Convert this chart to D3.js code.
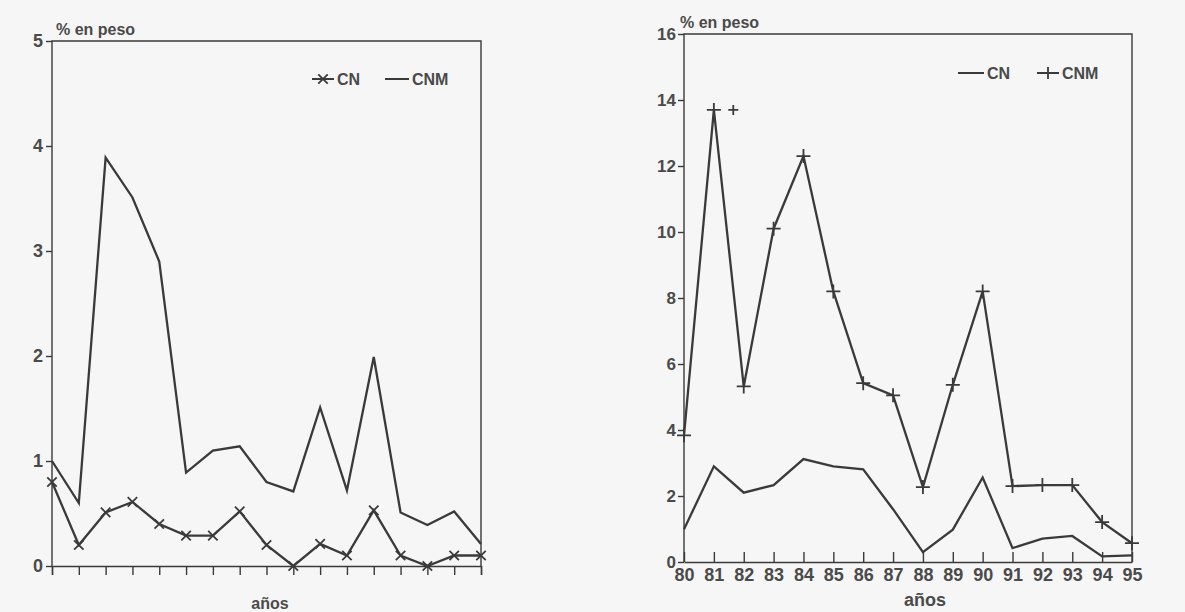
<!DOCTYPE html>
<html>
<head>
<meta charset="utf-8">
<script src="https://cdn.jsdelivr.net/npm/d3@7"></script>
<style>
  body { margin: 0; background: #f6f6f6; }
  svg { display: block; font-family: "Liberation Sans", Arial, sans-serif; }
  .axis path, .axis line { stroke: #3a3a3a; stroke-width: 1.4; }
  .axis text { fill: #4a4a4a; font-weight: bold; }
</style>
</head>
<body>
<div id="chart"></div>
<script>
// Panel izquierdo: 17 observaciones sin etiquetas de año
const leftIndex = d3.range(17);
const leftCN  = [0.80, 0.20, 0.51, 0.61, 0.40, 0.29, 0.29, 0.52, 0.20, 0.00, 0.21, 0.10, 0.53, 0.10, 0.00, 0.10, 0.10];
const leftCNM = [1.00, 0.60, 3.89, 3.51, 2.90, 0.89, 1.10, 1.14, 0.80, 0.71, 1.51, 0.72, 1.99, 0.51, 0.39, 0.52, 0.21];
const leftYTicks = [0, 1, 2, 3, 4, 5];

// Panel derecho: años 80-95
const years = d3.range(80, 96);
const rightCN  = [0.99, 2.90, 2.10, 2.33, 3.12, 2.90, 2.81, 1.60, 0.30, 0.98, 2.56, 0.42, 0.71, 0.79, 0.17, 0.20];
const rightCNM = [3.84, 13.70, 5.32, 10.10, 12.30, 8.20, 5.42, 5.05, 2.27, 5.37, 8.20, 2.30, 2.33, 2.33, 1.21, 0.57];
const rightYTicks = [0, 2, 4, 6, 8, 10, 12, 14, 16];
// marcador suelto junto al pico de 1981
const strayYear = [81.65];
const strayValue = [13.70];

const W = 1185, H = 612;
const ink = "#3a3a3a";
const txt = "#4a4a4a";

const svg = d3.select("#chart").append("svg").attr("width", W).attr("height", H);

function frame(g, x0, x1, y0, y1) {
    g.append("path")
        .attr("d", `M${x0},${y1}V${y0}H${x1}V${y1}`)
        .attr("fill", "none").attr("stroke", ink).attr("stroke-width", 1.4);
}

const plusPath = s => `M${-s},0H${s}M0,${-s}V${s}`;

// ---------- izquierdo ----------
{
    const x = d3.scaleLinear().domain([0, 16]).range([52, 481]);
    const y = d3.scaleLinear().domain([0, 5]).range([566, 41]);
    const g = svg.append("g");

    frame(g, 52, 481, 41, 566);

    g.append("g").attr("class", "axis")
        .attr("transform", "translate(52,0)")
        .call(d3.axisLeft(y).tickValues(leftYTicks).tickFormat(d3.format("d")).tickSize(6).tickPadding(3))
        .call(a => a.select(".domain").remove())
        .selectAll("text").style("font-size", "18px");

    g.append("g").attr("class", "axis")
        .attr("transform", "translate(0,566)")
        .call(d3.axisBottom(x).tickValues(leftIndex).tickFormat("").tickSize(9))
        .call(a => a.select(".domain").attr("stroke-width", 1.6));

    const line = d3.line().x((d, i) => x(leftIndex[i])).y(d => y(d));

    g.append("path").datum(leftCNM).attr("d", line)
        .attr("fill", "none").attr("stroke", ink).attr("stroke-width", 2.3);
    g.append("path").datum(leftCN).attr("d", line)
        .attr("fill", "none").attr("stroke", ink).attr("stroke-width", 2.3);

    const cross = d3.symbol().type(d3.symbolX).size(60);
    g.selectAll(".mk").data(leftCN).join("path")
        .attr("transform", (d, i) => `translate(${x(leftIndex[i])},${y(d)})`)
        .attr("d", cross).attr("fill", "none").attr("stroke", ink).attr("stroke-width", 1.8);

    g.append("text").attr("x", 56).attr("y", 35)
        .style("font-size", "16px").style("font-weight", "bold").attr("fill", txt)
        .text("% en peso");

    // leyenda
    const lg = g.append("g").attr("transform", "translate(312,79)");
    lg.append("line").attr("x1", 0).attr("x2", 22).attr("stroke", ink).attr("stroke-width", 2);
    lg.append("path").attr("transform", "translate(11,0)").attr("d", cross)
        .attr("fill", "none").attr("stroke", ink).attr("stroke-width", 1.8);
    lg.append("text").attr("x", 25).attr("y", 6).style("font-size", "16px").style("font-weight", "bold").attr("fill", txt).text("CN");
    lg.append("line").attr("x1", 73).attr("x2", 97).attr("stroke", ink).attr("stroke-width", 2);
    lg.append("text").attr("x", 100).attr("y", 6).style("font-size", "16px").style("font-weight", "bold").attr("fill", txt).text("CNM");

    g.append("text").attr("x", 270).attr("y", 609).attr("text-anchor", "middle")
        .style("font-size", "16px").style("font-weight", "bold").attr("fill", txt).text("años");
}

// ---------- derecho ----------
{
    const x = d3.scaleLinear().domain([80, 95]).range([684, 1132]);
    const y = d3.scaleLinear().domain([0, 16]).range([562, 34]);
    const g = svg.append("g");

    frame(g, 684, 1132, 34, 562);

    g.append("g").attr("class", "axis")
        .attr("transform", "translate(684,0)")
        .call(d3.axisLeft(y).tickValues(rightYTicks).tickSize(6).tickPadding(2))
        .call(a => a.select(".domain").remove())
        .selectAll("text").style("font-size", "17px");

    g.append("g").attr("class", "axis")
        .attr("transform", "translate(0,562)")
        .call(d3.axisBottom(x).tickValues(years).tickFormat(d3.format("d")).tickSizeInner(-10).tickSizeOuter(0).tickPadding(6))
        .call(a => a.select(".domain").attr("stroke-width", 1.6))
        .selectAll("text").style("font-size", "18px");

    const line = d3.line().x((d, i) => x(years[i])).y(d => y(d));

    g.append("path").datum(rightCN).attr("d", line)
        .attr("fill", "none").attr("stroke", ink).attr("stroke-width", 2.3);
    g.append("path").datum(rightCNM).attr("d", line)
        .attr("fill", "none").attr("stroke", ink).attr("stroke-width", 2.3);

    g.selectAll(".mk").data(rightCNM).join("path")
        .attr("transform", (d, i) => `translate(${x(years[i])},${y(d)})`)
        .attr("d", plusPath(7)).attr("fill", "none").attr("stroke", ink).attr("stroke-width", 1.8);
    g.selectAll(".stray").data(strayValue).join("path")
        .attr("transform", (d, i) => `translate(${x(strayYear[i])},${y(d)})`)
        .attr("d", plusPath(5)).attr("fill", "none").attr("stroke", ink).attr("stroke-width", 1.8);

    g.append("text").attr("x", 680).attr("y", 28)
        .style("font-size", "16px").style("font-weight", "bold").attr("fill", txt)
        .text("% en peso");

    const lg = g.append("g").attr("transform", "translate(958,73)");
    lg.append("line").attr("x1", 0).attr("x2", 26).attr("stroke", ink).attr("stroke-width", 2);
    lg.append("text").attr("x", 29).attr("y", 6).style("font-size", "16px").style("font-weight", "bold").attr("fill", txt).text("CN");
    lg.append("line").attr("x1", 79).attr("x2", 101).attr("stroke", ink).attr("stroke-width", 2);
    lg.append("path").attr("transform", "translate(90,0)").attr("d", plusPath(6))
        .attr("fill", "none").attr("stroke", ink).attr("stroke-width", 1.8);
    lg.append("text").attr("x", 104).attr("y", 6).style("font-size", "16px").style("font-weight", "bold").attr("fill", txt).text("CNM");

    g.append("text").attr("x", 925).attr("y", 606).attr("text-anchor", "middle")
        .style("font-size", "18px").style("font-weight", "bold").attr("fill", txt).text("años");
}
</script>
</body>
</html>
